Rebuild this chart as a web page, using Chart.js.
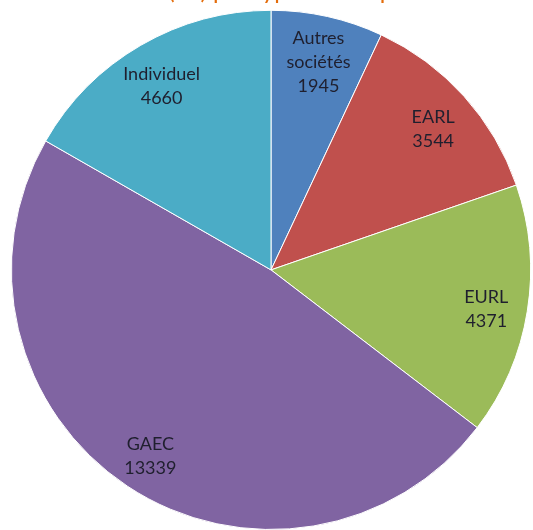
<!DOCTYPE html>
<html>
<head>
	<meta charset="UTF-8">
	<title>pie</title>
	<script src="https://cdn.jsdelivr.net/npm/chart.js"></script>
	<style>
	body{margin:0; background:#fff;}
	#wrap{width:533px; height:530px; overflow:hidden; position:relative;}
	#myChart{display:block; margin-top:-26px;}
	</style>
</head>
<body>
	<div id="wrap">
	  <canvas id="myChart" width="533" height="556"></canvas>
	</div>
	<script>
	// données
	const titleText = "Total (nb) par type d'entreprise";
	const categories = ['Autres sociétés', 'EARL', 'EURL', 'GAEC', 'Individuel'];
	const values = [1945, 3544, 4371, 13339, 4660];

	const sliceColors = ['#4F81BD', '#C0504D', '#9BBB59', '#8064A2', '#4BACC6'];

	// étiquettes dans les parts
	const sliceLabels = {
		id: 'sliceLabels',
		afterDatasetsDraw(chart){
			const ctx = chart.ctx;
			const meta = chart.getDatasetMeta(0);
			ctx.save();
			ctx.font = '18px Lato';
			ctx.fillStyle = '#1f1f2e';
			ctx.textAlign = 'center';
			ctx.textBaseline = 'middle';
			meta.data.forEach(function(arc, i){
				const p = arc.getProps(['x','y','startAngle','endAngle','outerRadius'], true);
				const mid = (p.startAngle + p.endAngle) / 2;
				const r = p.outerRadius * 0.84;
				const cx = p.x + Math.cos(mid) * r;
				const cy = p.y + Math.sin(mid) * r + 5;
				const lines = categories[i].split(' ').concat([String(chart.data.datasets[0].data[i])]);
				const lh = 24;
				const top = cy - (lines.length - 1) * lh / 2;
				lines.forEach(function(t, k){
					ctx.fillText(t, cx, top + k * lh);
				});
			});
			ctx.restore();
		}
	};

	new Chart(document.getElementById('myChart'), {
		type: 'pie',
		data: {
			labels: categories,
			datasets: [{
				data: values,
				backgroundColor: sliceColors,
				borderColor: '#ffffff',
				borderWidth: 1
			}]
		},
		options: {
			responsive: false,
			animation: false,
			layout: { padding: { left: 9, top: 3 } },
			plugins: {
				legend: { display: false },
				tooltip: { enabled: false },
				title: {
					display: true,
					text: titleText,
					color: '#E46C0A',
					font: { family: 'Lato', size: 24, weight: 'normal' },
					padding: { top: 0, bottom: 4 }
				}
			}
		},
		plugins: [sliceLabels]
	});
	</script>
</body>
</html>
